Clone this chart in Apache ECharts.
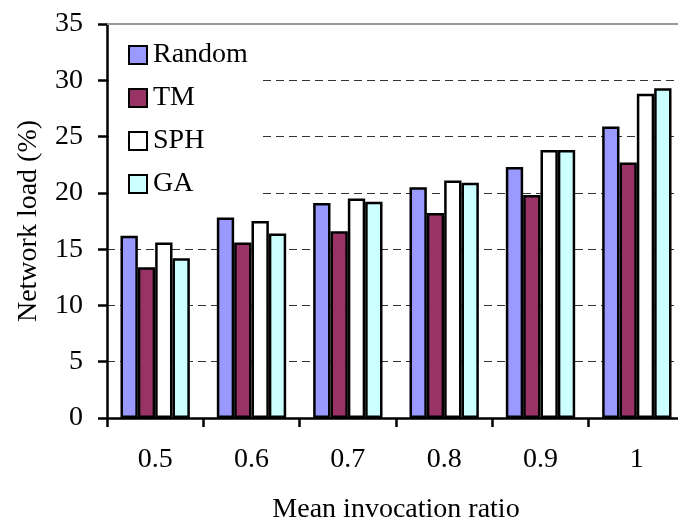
<!DOCTYPE html>
<html>
<head>
<meta charset="utf-8">
<script src="https://cdn.jsdelivr.net/npm/echarts@6/dist/echarts.min.js"></script>
<style>html,body{margin:0;padding:0;background:#fff}#c{width:678px;height:522px}</style>
</head>
<body>
<div id="c"></div>
<script>
const categories = ['0.5', '0.6', '0.7', '0.8', '0.9', '1'];
const randomVals = [16.2, 17.8, 19.1, 20.5, 22.3, 25.9];
const tmVals = [13.4, 15.6, 16.6, 18.2, 19.8, 22.7];
const sphVals = [15.6, 17.5, 19.5, 21.1, 23.8, 28.8];
const gaVals = [14.2, 16.4, 19.2, 20.9, 23.8, 29.3];
const seriesNames = ['Random', 'TM', 'SPH', 'GA'];
const seriesColors = ['#9999ff', '#993366', '#ffffff', '#ccffff'];
const seriesData = [randomVals, tmVals, sphVals, gaVals];

const FONT = '"Liberation Serif", "Times New Roman", serif';
const FS = 28;
const chart = echarts.init(document.getElementById('c'));
chart.setOption({
  animation: false,
  backgroundColor: '#fff',
  textStyle: { fontFamily: FONT, color: '#000' },
  grid: { left: 107, top: 24, width: 578, bottom: 104, containLabel: false, outerBoundsMode: 'none' },
  legend: {
    orient: 'vertical',
    left: 109,
    top: 26,
    padding: [15, 10, 12, 19],
    backgroundColor: '#fff',
    itemWidth: 18,
    itemHeight: 18,
    itemGap: 15,
    icon: 'rect',
    textStyle: { fontFamily: FONT, fontSize: FS, color: '#000', lineHeight: 28, padding: [0, 0, 0, 1] },
    data: seriesNames
  },
  xAxis: [{
    type: 'category',
    data: categories,
    axisLine: { lineStyle: { color: '#000', width: 2.5 } },
    axisTick: { show: true, length: 9, lineStyle: { color: '#000', width: 2.5 } },
    axisLabel: { fontFamily: FONT, fontSize: FS, color: '#000', margin: 28 },
    name: 'Mean invocation ratio',
    nameLocation: 'middle',
    nameGap: 78,
    nameTextStyle: { fontFamily: FONT, fontSize: FS, color: '#000' }
  }, {
    type: 'category',
    data: categories,
    position: 'top',
    axisLine: { lineStyle: { color: '#999', width: 2 } },
    axisTick: { show: false },
    axisLabel: { show: false }
  }],
  yAxis: {
    type: 'value',
    min: 0, max: 35, interval: 5,
    axisLine: { show: true, lineStyle: { color: '#000', width: 2.5 } },
    axisTick: { show: true, length: 9, lineStyle: { color: '#000', width: 2.5 } },
    axisLabel: { fontFamily: FONT, fontSize: FS, color: '#000', margin: 24 },
    splitLine: { show: true, lineStyle: { color: '#333', width: 1, type: [8, 5] } },
    name: 'Network load (%)',
    nameLocation: 'middle',
    nameRotate: 90,
    nameGap: 64,
    nameTextStyle: { fontFamily: FONT, fontSize: FS, color: '#000' }
  },
  series: seriesNames.map((n, i) => ({
    name: n,
    type: 'bar',
    data: seriesData[i],
    barGap: '0%',
    barCategoryGap: '28%',
    itemStyle: { color: seriesColors[i], borderColor: '#000', borderWidth: 2.5 }
  }))
});
</script>
</body>
</html>
